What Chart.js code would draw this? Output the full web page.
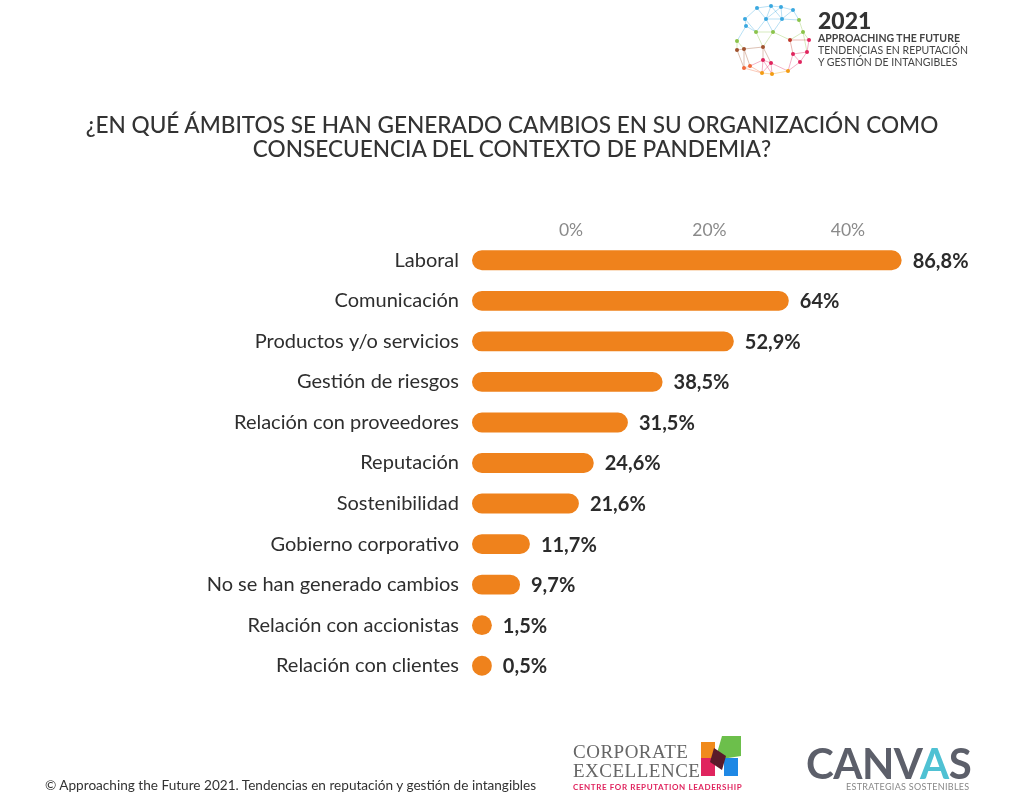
<!DOCTYPE html>
<html>
<head>
<meta charset="utf-8">
<script src="https://cdn.jsdelivr.net/npm/chart.js@4"></script>
<style>
  html, body { margin: 0; padding: 0; background: #fff; }
  body { width: 1024px; height: 800px; position: relative; overflow: hidden; font-family: Lato, "Open Sans", sans-serif; }
  .abs { position: absolute; }
  #title { left: 0; width: 1024px; top: 113px; text-align: center; font-size: 22.6px; line-height: 24px; color: #333; font-weight: 500; }
  #chartBox { left: 0; top: 200px; width: 1024px; height: 511px; }
  #hdr2021 { left: 818px; top: 6px; font-size: 23px; font-weight: 900; color: #333; }
  #hdrSub { left: 818px; top: 32px; font-size: 10.5px; line-height: 12px; color: #444; }
  #footer { left: 45px; top: 777px; font-size: 13.6px; color: #333; }
  #ce1 { left: 573px; top: 742px; font-family: "Liberation Serif", serif; font-size: 19px; line-height: 19px; color: #666; letter-spacing: 0.5px; }
  #ce2 { left: 573px; top: 782px; font-size: 8px; font-weight: bold; color: #e0245e; letter-spacing: 0.6px; }
  #canvasLogo { left: 806px; top: 738px; font-size: 42px; font-weight: 700; color: #5c5f6a; letter-spacing: -0.5px; }
  #canvasSub { left: 846px; top: 781px; font-size: 9px; color: #888; letter-spacing: 0.3px; }
</style>
</head>
<body>
<canvas id="deco" class="abs" width="1024" height="800" style="left:0;top:0"></canvas>

<div id="hdr2021" class="abs">2021</div>
<div id="hdrSub" class="abs"><b>APPROACHING THE FUTURE</b><br>TENDENCIAS EN REPUTACIÓN<br>Y GESTIÓN DE INTANGIBLES</div>

<div id="title" class="abs">¿EN QUÉ ÁMBITOS SE HAN GENERADO CAMBIOS EN SU ORGANIZACIÓN COMO<br>CONSECUENCIA DEL CONTEXTO DE PANDEMIA?</div>

<div id="chartBox" class="abs"><canvas id="chart"></canvas></div>

<div id="footer" class="abs">© Approaching the Future 2021. Tendencias en reputación y gestión de intangibles</div>
<div id="ce1" class="abs">CORPORATE<br>EXCELLENCE</div>
<div id="ce2" class="abs">CENTRE FOR REPUTATION LEADERSHIP</div>
<div id="canvasLogo" class="abs">CAN<span>V</span><span style="color:#4fc1d3">A</span>S</div>
<div id="canvasSub" class="abs">ESTRATEGIAS SOSTENIBLES</div>

<script>
// chart data
const categories = [
  "Laboral",
  "Comunicación",
  "Productos y/o servicios",
  "Gestión de riesgos",
  "Relación con proveedores",
  "Reputación",
  "Sostenibilidad",
  "Gobierno corporativo",
  "No se han generado cambios",
  "Relación con accionistas",
  "Relación con clientes"
];
const values = [86.8, 64, 52.9, 38.5, 31.5, 24.6, 21.6, 11.7, 9.7, 1.5, 0.5];
const topTicks = [0, 20, 40];

const ORANGE = "#ef821c";
const BAR_H = 20;

// bars shorter than their height are drawn as a dot
function isShort(chart, v) {
  const x = chart.scales.x;
  return x.getPixelForValue(v) - x.getPixelForValue(0) < BAR_H;
}

// value text after each bar, plus the dot for very short bars
const barExtras = {
  id: "barExtras",
  afterDatasetsDraw(chart) {
    const ctx = chart.ctx;
    const meta = chart.getDatasetMeta(0);
    ctx.save();
    meta.data.forEach((bar, i) => {
      const h = bar.height;
      let end = bar.x;
      if (isShort(chart, values[i])) {
        ctx.fillStyle = ORANGE;
        ctx.beginPath();
        ctx.arc(bar.base + h / 2, bar.y, h / 2, 0, Math.PI * 2);
        ctx.fill();
        end = bar.base + h;
      }
      ctx.fillStyle = "#2b2b2b";
      ctx.font = "bold 20px Lato";
      ctx.textAlign = "left";
      ctx.textBaseline = "middle";
      const txt = String(values[i]).replace(".", ",") + "%";
      ctx.fillText(txt, end + 11, bar.y + 1);
    });
    ctx.restore();
  }
};

new Chart(document.getElementById("chart"), {
  type: "bar",
  data: {
    labels: categories,
    datasets: [{
      data: values,
      backgroundColor: (c) => (c.raw != null && isShort(c.chart, c.raw)) ? "rgba(0,0,0,0)" : ORANGE,
      borderRadius: 10,
      borderSkipped: false,
      categoryPercentage: 0.49,
      barPercentage: 1.0
    }]
  },
  options: {
    indexAxis: "y",
    responsive: true,
    maintainAspectRatio: false,
    animation: false,
    layout: { padding: { left: 0, right: 57, top: 0, bottom: 14 } },
    plugins: { legend: { display: false }, tooltip: { enabled: false } },
    scales: {
      x: {
        min: 0,
        max: 100,
        display: false
      },
      x2: {
        position: "top",
        min: -14.3,
        max: 57.2,
        grid: { display: false, drawTicks: false },
        border: { display: false },
        afterBuildTicks: (s) => { s.ticks = topTicks.map((v) => ({ value: v })); },
        afterFit: (s) => { s.height = 40; },
        ticks: {
          color: "#8a8a8a",
          font: { family: "Lato", size: 17.5 },
          padding: -1,
          callback: (v) => v + "%"
        }
      },
      y: {
        grid: { display: false, drawTicks: false },
        border: { display: false },
        afterFit: (s) => { s.width = 472; },
        ticks: {
          color: "#2e2e2e",
          font: { family: "Lato", size: 20 },
          padding: 13
        }
      }
    }
  },
  plugins: [barExtras]
});

// header sphere + corporate excellence mark (decoration)
const d = document.getElementById("deco").getContext("2d");
const pts = [
  [757, 8, "#3aa8e0"], [771, 6, "#3aa8e0"], [781, 7, "#3aa8e0"], [793, 10, "#3aa8e0"],
  [745, 19, "#3aa8e0"], [766, 19, "#3aa8e0"], [782, 19, "#3aa8e0"], [799, 20, "#8bc34a"],
  [746, 26, "#3aa8e0"], [756, 32, "#8bc34a"], [773, 32, "#8bc34a"], [803, 32, "#8bc34a"],
  [737, 41, "#8bc34a"], [763, 47, "#a0522d"], [790, 40, "#c0392b"], [809, 40, "#e0245e"],
  [737, 50, "#a0522d"], [744, 49, "#a0522d"], [793, 54, "#e0245e"], [807, 52, "#e0245e"],
  [763, 60, "#e0245e"], [771, 63, "#e0245e"], [800, 62, "#e0245e"], [750, 66, "#f06a3c"],
  [744, 68, "#f06a3c"], [762, 73, "#f39c12"], [772, 74, "#f39c12"], [788, 71, "#f39c12"]
];
d.lineWidth = 0.6;
for (let i = 0; i < pts.length; i++) {
  for (let j = i + 1; j < pts.length; j++) {
    const dx = pts[i][0] - pts[j][0], dy = pts[i][1] - pts[j][1];
    if (dx * dx + dy * dy < 420) {
      d.strokeStyle = pts[i][2] + "99";
      d.beginPath(); d.moveTo(pts[i][0], pts[i][1]); d.lineTo(pts[j][0], pts[j][1]); d.stroke();
    }
  }
}
pts.forEach((p) => { d.fillStyle = p[2]; d.beginPath(); d.arc(p[0], p[1], 2, 0, Math.PI * 2); d.fill(); });

// corporate excellence mark
d.fillStyle = "#f08a1c"; d.fillRect(701, 742, 14, 18);
d.fillStyle = "#6cbf4b"; d.beginPath(); d.moveTo(722, 736); d.lineTo(741, 736); d.lineTo(741, 756); d.lineTo(715, 760); d.closePath(); d.fill();
d.fillStyle = "#e0245e"; d.fillRect(701, 758, 14, 18);
d.fillStyle = "#1e88e5"; d.fillRect(724, 758, 14, 18);
d.fillStyle = "#5a1a2a"; d.beginPath(); d.moveTo(714, 748); d.lineTo(726, 756); d.lineTo(722, 770); d.lineTo(710, 762); d.closePath(); d.fill();
</script>
</body>
</html>
